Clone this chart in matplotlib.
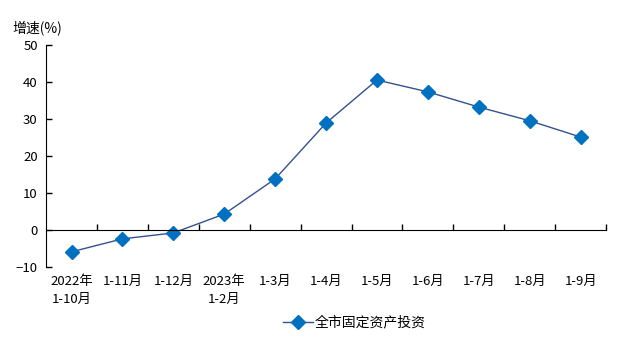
import matplotlib
matplotlib.use("Agg")
import matplotlib.pyplot as plt
import matplotlib.transforms as mtransforms

plt.rcParams['font.family'] = ['Noto Sans CJK SC', 'DejaVu Sans']

categories = ["2022年\n1-10月", "1-11月", "1-12月", "2023年\n1-2月", "1-3月", "1-4月",
              "1-5月", "1-6月", "1-7月", "1-8月", "1-9月"]
growth = [-5.9, -2.4, -0.8, 4.3, 13.8, 28.9, 40.5, 37.3, 33.2, 29.5, 25.1]
y_ticks = [-10, 0, 10, 20, 30, 40, 50]

fig = plt.figure(figsize=(6.4, 3.56), dpi=100)
ax = fig.add_axes([0.072, 0.25, 0.875, 0.624])

x = list(range(len(categories)))
ax.plot(x, growth, color='#34508F', linewidth=1.0, marker='D', markersize=7,
        markerfacecolor='#0070C0', markeredgecolor='#0070C0', label='全市固定资产投资')

ax.set_xlim(-0.5, len(categories) - 0.5)
ax.set_ylim(-10, 50)
ax.set_yticks(y_ticks)
ax.tick_params(axis='y', direction='in', length=4, width=1, labelsize=9.5, pad=6)

# x axis sits at zero, ticks between categories
ax.spines['bottom'].set_position(('data', 0))
ax.spines['top'].set_visible(False)
ax.spines['right'].set_visible(False)
ax.set_xticks([i + 0.5 for i in x])
ax.set_xticklabels([])
ax.tick_params(axis='x', direction='in', length=4, width=1)

trans = mtransforms.blended_transform_factory(ax.transData, ax.transAxes)
for i, lab in enumerate(categories):
    ax.text(i, -0.035, lab, transform=trans, ha='center', va='top',
            fontsize=9.5, linespacing=1.5)

fig.text(0.02, 0.92, "增速(%)", fontsize=10, ha='left', va='center')

ax.legend(loc='center', bbox_to_anchor=(0.55, -0.25), frameon=False,
          fontsize=10, handlelength=2.2, handletextpad=0.1)

fig.savefig("out.png", dpi=100)
